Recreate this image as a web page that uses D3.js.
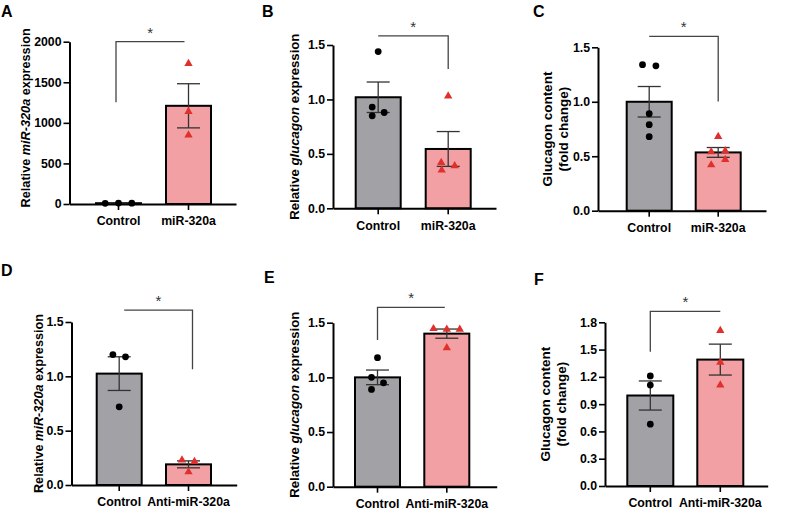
<!DOCTYPE html>
<html>
<head>
<meta charset="utf-8">
<script src="https://cdn.jsdelivr.net/npm/d3@7"></script>
<style>
  html, body { margin: 0; padding: 0; background: #fff; }
  svg { display: block; font-family: "Liberation Sans", Arial, Helvetica, sans-serif; }
  .tick text { font-weight: bold; font-size: 12.3px; font-family: "Liberation Sans", Arial, sans-serif; fill: #000; }
</style>
</head>
<body>
<svg id="chart" width="800" height="520"></svg>
<script>
// ---------------- DATA ----------------
const topCategories = ["Control", "miR-320a"];
const bottomCategories = ["Control", "Anti-miR-320a"];

// A: Relative miR-320a expression
const aTicks = [0, 500, 1000, 1500, 2000];
const aMeans = [10, 1210];
const aSems = [2, 272];
const aControlPts = [8, 12, 10];
const aTreatPts = [1730, 1140, 850];

// B: Relative glucagon expression
const bTicks = [0, 0.5, 1.0, 1.5];
const bMeans = [1.02, 0.545];
const bSems = [0.14, 0.16];
const bControlPts = [1.44, 0.93, 0.85, 0.88];
const bTreatPts = [1.03, 0.42, 0.35, 0.39];

// C: Glucagon content (fold change)
const cTicks = [0, 0.5, 1.0, 1.5];
const cMeans = [1.0, 0.535];
const cSems = [0.14, 0.045];
const cControlPts = [1.34, 1.33, 0.89, 0.79, 0.68];
const cTreatPts = [0.68, 0.54, 0.55, 0.47, 0.42];

// D: Relative miR-320a expression (anti)
const dTicks = [0, 0.5, 1.0, 1.5];
const dMeans = [1.025, 0.19];
const dSems = [0.155, 0.032];
const dControlPts = [1.20, 1.18, 0.72];
const dTreatPts = [0.23, 0.215, 0.12];

// E: Relative glucagon expression (anti)
const eTicks = [0, 0.5, 1.0, 1.5];
const eMeans = [1.0, 1.40];
const eSems = [0.067, 0.042];
const eControlPts = [1.18, 1.0, 0.95, 0.89];
const eTreatPts = [1.445, 1.44, 1.44, 1.27];

// F: Glucagon content (fold change) (anti)
const fTicks = [0, 0.3, 0.6, 0.9, 1.2, 1.5, 1.8];
const fMeans = [0.995, 1.39];
const fSems = [0.16, 0.17];
const fControlPts = [1.21, 1.11, 0.68];
const fTreatPts = [1.71, 1.36, 1.11];

// ---------------- LAYOUT / STYLE ----------------
const GRAY = "#a2a2a6", PINK = "#f2a0a3", RED = "#e0302c";
const lblRel = (w) => [[{t: "Relative ", i: false}, {t: w, i: true}, {t: " expression", i: false}]];
const lblGlu = [[{t: "Glucagon content", i: false}], [{t: "(fold change)", i: false}]];

const panels = [
  { letter: "A", lx: 1, ly: 17, cats: topCategories, ticks: aTicks, fmt: d3.format("d"),
    means: aMeans, sems: aSems, pts: [aControlPts, aTreatPts],
    jit: [[-13.3, 0, 13.3], [0, 0, 0]],
    x0: 69.5, x1: 236, barL: 96, bw: 45, step: 70, y0: 204, yT: 41.7, max: 2000,
    label: lblRel("miR-320a"), labX: [29.5], labFs: 12.7, labDy: -5,
    br: { y: 2000, leg: "left", to: 1253, dx: [-2.5, -4] } },
  { letter: "B", lx: 262, ly: 17, cats: topCategories, ticks: bTicks, fmt: d3.format(".1f"),
    means: bMeans, sems: bSems, pts: [bControlPts, bTreatPts],
    jit: [[0, -6, -6, 6], [0, -7, -6.5, 6.5]],
    x0: 333, x1: 496, barL: 355.7, bw: 45, step: 70, y0: 208.3, yT: 45, max: 1.5,
    label: lblRel("glucagon"), labX: [298.5], labFs: 13.2, labDy: 0,
    br: { y: 1.584, leg: "right", to: 1.28, dx: [0, 0] } },
  { letter: "C", lx: 533, ly: 17, cats: topCategories, ticks: cTicks, fmt: d3.format(".1f"),
    means: cMeans, sems: cSems, pts: [cControlPts, cTreatPts],
    jit: [[-6.7, 6.7, 0, 0, 0], [0, -7, 7, 7, -7]],
    x0: 598, x1: 766, barL: 626.7, bw: 45, step: 69, y0: 210.7, yT: 47.3, max: 1.5,
    label: lblGlu, labX: [552, 568], labFs: 13.5, labDy: 0,
    br: { y: 1.60, leg: "right", to: 1.003, dx: [0, 0] } },
  { letter: "D", lx: 1, ly: 276, cats: bottomCategories, ticks: dTicks, fmt: d3.format(".1f"),
    means: dMeans, sems: dSems, pts: [dControlPts, dTreatPts],
    jit: [[-6.3, 6.3, 0], [-6.5, 6, 0]],
    x0: 71.5, x1: 236.7, barL: 96.7, bw: 45, step: 69.3, y0: 485, yT: 322, max: 1.5,
    label: lblRel("miR-320a"), labX: [42.5], labFs: 12.7, labDy: 0,
    br: { y: 1.61, leg: "right", to: 1.065, dx: [5, 4] } },
  { letter: "E", lx: 264, ly: 283, cats: bottomCategories, ticks: eTicks, fmt: d3.format(".1f"),
    means: eMeans, sems: eSems, pts: [eControlPts, eTreatPts],
    jit: [[0, -6, 6, -6], [-13.3, 0, 13, 0]],
    x0: 333, x1: 496.7, barL: 355, bw: 45, step: 69.3, y0: 486.7, yT: 322.7, max: 1.5,
    label: lblRel("glucagon"), labX: [298.5], labFs: 13.2, labDy: 0,
    br: { y: 1.641, leg: "left", to: 1.342, dx: [0, -2] } },
  { letter: "F", lx: 534, ly: 285, cats: bottomCategories, ticks: fTicks, fmt: d3.format(".1f"),
    means: fMeans, sems: fSems, pts: [fControlPts, fTreatPts],
    jit: [[0, 0, 0], [0, 0, 0]],
    x0: 605, x1: 767.7, barL: 627.3, bw: 46, step: 70, y0: 486, yT: 322.3, max: 1.8,
    label: lblGlu, labX: [550, 566], labFs: 13.5, labDy: 0,
    br: { y: 1.921, leg: "left", to: 1.475, dx: [0, 0] } }
];

const svg = d3.select("#chart");

panels.forEach(p => {
  const g = svg.append("g");

  // band scale over the x-axis extent, padding derived from bar geometry
  const W = p.x1 - p.x0;
  const pi = 1 - p.bw / p.step;
  const po = (W / p.step - 2 + pi) / 2;
  const x = d3.scaleBand().domain(p.cats).range([p.x0, p.x1])
    .paddingInner(pi).paddingOuter(po).align(0.5);
  // shift so first bar begins where the picture shows it
  const shift = p.barL - x(p.cats[0]);
  const xs = d3.scaleBand().domain(p.cats).range([p.x0 + shift, p.x1 + shift])
    .paddingInner(pi).paddingOuter(po).align(0.5);
  const cx = c => xs(c) + xs.bandwidth() / 2;

  const y = d3.scaleLinear().domain([0, p.max]).range([p.y0, p.yT]);

  // bars
  g.selectAll("rect.bar").data(p.cats).join("rect")
    .attr("x", c => xs(c)).attr("width", xs.bandwidth())
    .attr("y", (c, i) => y(p.means[i]))
    .attr("height", (c, i) => y(0) - y(p.means[i]))
    .attr("fill", (c, i) => i === 0 ? GRAY : PINK)
    .attr("stroke", "#000").attr("stroke-width", 2);

  // error bars
  const capW = 11.5;
  p.cats.forEach((c, i) => {
    const hi = y(p.means[i] + p.sems[i]), lo = y(p.means[i] - p.sems[i]);
    const eg = g.append("g").attr("stroke", "#333").attr("stroke-width", 1.3);
    eg.append("line").attr("x1", cx(c)).attr("x2", cx(c)).attr("y1", hi).attr("y2", lo);
    eg.append("line").attr("x1", cx(c) - capW).attr("x2", cx(c) + capW).attr("y1", hi).attr("y2", hi);
    eg.append("line").attr("x1", cx(c) - capW).attr("x2", cx(c) + capW).attr("y1", lo).attr("y2", lo);
  });

  // axes
  const ya = d3.axisLeft(y).tickValues(p.ticks).tickFormat(p.fmt).tickSize(6).tickSizeOuter(0).tickPadding(2);
  const yg = g.append("g").attr("transform", `translate(${p.x0},0)`).call(ya);
  const xa = d3.axisBottom(x).tickSize(6).tickSizeOuter(0).tickPadding(6.5);
  const xg = g.append("g").attr("transform", `translate(0,${p.y0})`).call(xa);
  // move x ticks to actual bar centres
  xg.selectAll(".tick").attr("transform", d => `translate(${cx(d)},0)`);
  [yg, xg].forEach(a => {
    a.select(".domain").attr("stroke", "#000").attr("stroke-width", 2);
    a.selectAll(".tick line").attr("stroke", "#000").attr("stroke-width", 1.6);
  });

  // points
  p.cats.forEach((c, i) => {
    const sym = i === 0 ? d3.symbolCircle : d3.symbolTriangle;
    const size = i === 0 ? 36 : 30;
    g.selectAll(null).data(p.pts[i]).join("path")
      .attr("d", d3.symbol().type(sym).size(size))
      .attr("transform", (v, k) => `translate(${cx(c) + p.jit[i][k]},${y(v)})`)
      .attr("fill", i === 0 ? "#000" : RED);
  });

  // significance bracket
  const bx1 = cx(p.cats[0]) + p.br.dx[0], bx2 = cx(p.cats[1]) + p.br.dx[1];
  const by = y(p.br.y), bto = y(p.br.to);
  const d = p.br.leg === "left"
    ? `M${bx1},${bto}V${by}H${bx2}`
    : `M${bx1},${by}H${bx2}V${bto}`;
  g.append("path").attr("d", d).attr("fill", "none").attr("stroke", "#444").attr("stroke-width", 1.3);
  g.append("text").attr("x", (bx1 + bx2) / 2).attr("y", by - 4)
    .attr("text-anchor", "middle").attr("font-size", 15).attr("fill", "#333").text("*");

  // y label
  const midY = (p.y0 + p.yT) / 2 + p.labDy;
  p.label.forEach((line, li) => {
    const t = g.append("text")
      .attr("transform", `translate(${p.labX[li]},${midY}) rotate(-90)`)
      .attr("text-anchor", "middle").attr("font-weight", "bold").attr("font-size", p.labFs).attr("fill", "#000");
    line.forEach(seg => t.append("tspan").attr("font-style", seg.i ? "italic" : "normal").text(seg.t));
  });

  // panel letter
  g.append("text").attr("x", p.lx).attr("y", p.ly).attr("font-size", 16).attr("font-weight", "bold").text(p.letter);
});
</script>
</body>
</html>
